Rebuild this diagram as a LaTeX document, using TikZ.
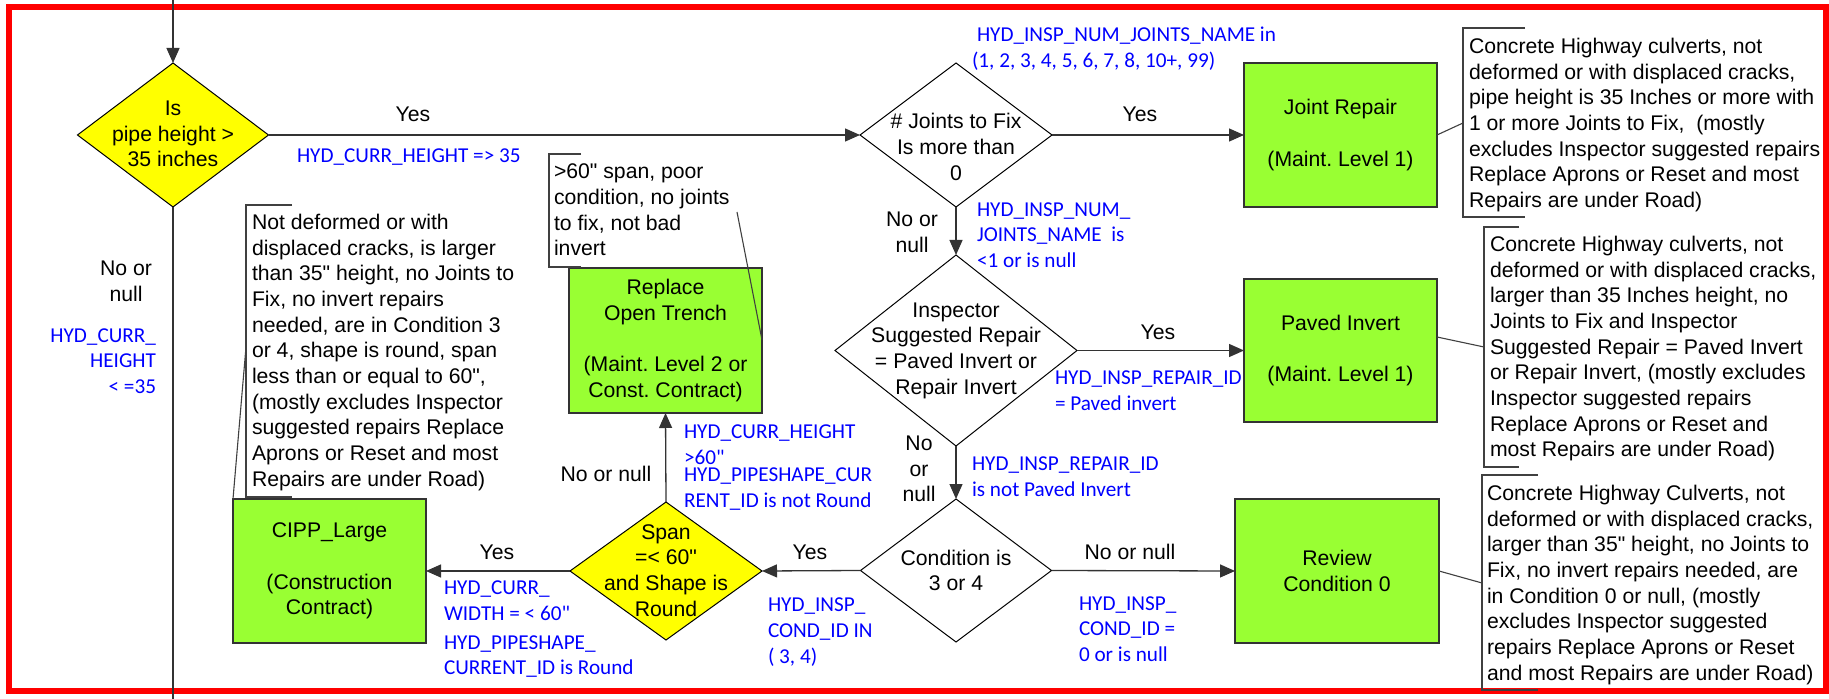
\documentclass[tikz,border=0pt]{standalone}
\usepackage{fontspec}
\newfontfamily\arialf{Liberation Sans}
\newfontfamily\calf{Carlito}
\usetikzlibrary{shapes.geometric,arrows.meta}
\definecolor{boxgreen}{HTML}{99FF33}
\definecolor{lblblue}{HTML}{0000FF}
\definecolor{dyellow}{HTML}{FFFF00}
\begin{document}
\frenchspacing
\begin{tikzpicture}[x=0.5pt,y=-0.5pt,
  every node/.style={inner sep=0pt, outer sep=0pt},
  txt/.style={font=\arialf\fontsize{10.6}{12.85}\selectfont, align=center},
  note/.style={font=\arialf\fontsize{10.6}{12.85}\selectfont, align=left, anchor=north west},
  bl/.style={font=\calf\fontsize{10.6}{12.85}\selectfont, text=lblblue, align=left},
  dia/.style={shape=diamond, draw=black, line width=0.5pt},
  ydia/.style={dia, fill=dyellow},
  gbox/.style={draw=black!80, line width=0.7pt, fill=boxgreen, font=\arialf\fontsize{10.6}{12.85}\selectfont, align=center},
  arr/.style={draw=black!80, line width=0.65pt, -{Triangle[length=7.5pt,width=6.5pt]}},
  plain/.style={draw=black!80, line width=0.65pt},
  brk/.style={draw=black!75, line width=0.55pt},
]
\useasboundingbox (0,0) rectangle (1829,699);
\draw[red, line width=2.8pt] (9,7) rectangle (1826,691);

% decision diamonds
\node[ydia, minimum width=95.5pt, minimum height=72pt] (d1) at (173,135) {};
\node[txt] (d1t) at (173,134) {Is\\pipe height >\\35 inches};
\node[dia, minimum width=96pt, minimum height=72pt] (d2) at (956,135) {};
\node[txt] (d2t) at (956,147) {\# Joints to Fix\\Is more than\\0};
\node[dia, minimum width=121pt, minimum height=95.5pt] (d3) at (956,350.5) {};
\node[txt] (d3t) at (956,350.5) {Inspector\\Suggested Repair\\= Paved Invert or\\Repair Invert};
\node[dia, minimum width=95.5pt, minimum height=71.5pt] (d4) at (956,570.5) {};
\node[txt] (d4t) at (956,570.5) {Condition is\\3 or 4};
\node[ydia, minimum width=96pt, minimum height=69pt] (d5) at (666,571) {};
\node[txt] (d5t) at (666,570.5) {Span\\=< 60"\\and Shape is\\Round};

% result boxes
\node[gbox, minimum width=96.5pt, minimum height=72pt] (joint) at (1340.5,135) {Joint Repair\\[12.85pt](Maint. Level 1)};
\node[gbox, minimum width=96.5pt, minimum height=71.5pt] (paved) at (1340.5,350.5) {Paved Invert\\[12.85pt](Maint. Level 1)};
\node[gbox, minimum width=102pt, minimum height=72pt] (review) at (1337,571) {Review\\Condition 0};
\node[gbox, minimum width=96.5pt, minimum height=72.5pt] (replace) at (665.5,340.5) {Replace\\Open Trench\\[12.85pt](Maint. Level 2 or\\Const. Contract)};
\node[gbox, minimum width=96.5pt, minimum height=72pt] (cipp) at (329.5,571) {CIPP\_Large\\[12.85pt](Construction\\Contract)};

% connectors
\coordinate (top) at (173,0);
\coordinate (bot) at (173,699);
\draw[arr] (top) -- (d1.north);
\draw[plain] (d1.south) -- (bot);
\draw[arr] (d1.east) -- (d2.west);
\draw[arr] (d2.east) -- (joint.west);
\draw[arr] (d2.south) -- (d3.north);
\draw[arr] (d3.east) -- (paved.west);
\draw[arr] (d3.south) -- (d4.north);
\draw[arr] (d4.east) -- (review.west);
\draw[arr] (d4.west) -- (d5.east);
\draw[arr] (d5.north) -- (replace.south);
\draw[arr] (d5.west) -- (cipp.east);

% connector labels
\node[txt] (l1) at (413,114) {Yes};
\node[bl, anchor=west] (b1) at (297,157) {HYD\_CURR\_HEIGHT => 35};
\node[txt] (l2) at (126,281) {No or\\null};
\node[bl, align=right, anchor=east] (b2) at (156,361) {HYD\_CURR\_\\HEIGHT\\< =35};
\node[bl, anchor=west] (b3) at (972,49) {\hspace*{2.5pt}HYD\_INSP\_NUM\_JOINTS\_NAME in\\(1, 2, 3, 4, 5, 6, 7, 8, 10+, 99)};
\node[txt] (l3) at (1140,114) {Yes};
\node[txt] (l4) at (912,232) {No or\\null};
\node[bl, anchor=west] (b4) at (977,235) {HYD\_INSP\_NUM\_\\JOINTS\_NAME\ \ is\\<1 or is null};
\node[txt] (l5) at (1158,332) {Yes};
\node[bl, anchor=west] (b5) at (1055,391) {HYD\_INSP\_REPAIR\_ID\\= Paved invert};
\node[txt] (l6) at (919,469) {No\\or\\null};
\node[bl, anchor=west] (b6) at (972,477) {HYD\_INSP\_REPAIR\_ID\\is not Paved Invert};
\node[txt] (l7) at (1130,552) {No or null};
\node[bl, anchor=west] (b7) at (1079,629) {HYD\_INSP\_\\COND\_ID =\\0 or is null};
\node[txt] (l8) at (810,552) {Yes};
\node[bl, anchor=west] (b8) at (768,632) {HYD\_INSP\_\\COND\_ID IN\\( 3, 4)};
\node[txt] (l9) at (606,474) {No or null};
\node[bl, anchor=west] (b9) at (684,444.5) {HYD\_CURR\_HEIGHT\\>60"};
\node[bl, anchor=west] (b10) at (684,489) {HYD\_PIPESHAPE\_CUR\\RENT\_ID is not Round};
\node[txt] (l10) at (497,552) {Yes};
\node[bl, anchor=west] (b11) at (444,600.5) {HYD\_CURR\_\\WIDTH = < 60"};
\node[bl, anchor=west] (b12) at (444,656.5) {HYD\_PIPESHAPE\_\\CURRENT\_ID is Round};

% callouts
\node[note] (nA) at (252,214) {Not deformed or with\\displaced cracks, is larger\\than 35" height, no Joints to\\Fix, no invert repairs\\needed, are in Condition 3\\or 4, shape is round, span\\less than or equal to 60",\\(mostly excludes Inspector\\suggested repairs Replace\\Aprons or Reset and most\\Repairs are under Road)};
\draw[brk] (292,205) -- (246,205) -- (246,497) -- (292,497);
\coordinate (cA) at (246,347);
\draw[brk] (cA) -- (cipp.north west);

\node[note] (nB) at (554,164) {>60" span, poor\\condition, no joints\\to fix, not bad\\invert};
\draw[brk] (581,154) -- (549,154) -- (549,267) -- (581,267);
\coordinate (cB) at (737,212);
\coordinate (cB2) at (762,340);
\draw[brk] (cB) -- (cB2);

\node[note] (nC) at (1469,38) {Concrete Highway culverts, not\\deformed or with displaced cracks,\\pipe height is 35 Inches or more with\\1 or more Joints to Fix,\ \ (mostly\\excludes Inspector suggested repairs\\Replace Aprons or Reset and most\\Repairs are under Road)};
\draw[brk] (1525,28) -- (1463,28) -- (1463,217) -- (1525,217);
\coordinate (cC) at (1463,123);
\draw[brk] (cC) -- (joint.east);

\node[note] (nD) at (1490,236) {Concrete Highway culverts, not\\deformed or with displaced cracks,\\larger than 35 Inches height, no\\Joints to Fix and Inspector\\Suggested Repair = Paved Invert\\or Repair Invert, (mostly excludes\\Inspector suggested repairs\\Replace Aprons or Reset and\\most Repairs are under Road)};
\draw[brk] (1519,227) -- (1484,227) -- (1484,467) -- (1519,467);
\coordinate (cD) at (1484,347);
\coordinate (cD2) at (1437,337);
\draw[brk] (cD) -- (cD2);

\node[note] (nE) at (1487,485) {Concrete Highway Culverts, not\\deformed or with displaced cracks,\\larger than 35" height, no Joints to\\Fix, no invert repairs needed, are\\in Condition 0 or null, (mostly\\excludes Inspector suggested\\repairs Replace Aprons or Reset\\and most Repairs are under Road)};
\draw[brk] (1538,475) -- (1482,475) -- (1482,690) -- (1538,690);
\coordinate (cE) at (1482,583);
\draw[brk] (cE) -- (review.east);
\end{tikzpicture}
\end{document}
